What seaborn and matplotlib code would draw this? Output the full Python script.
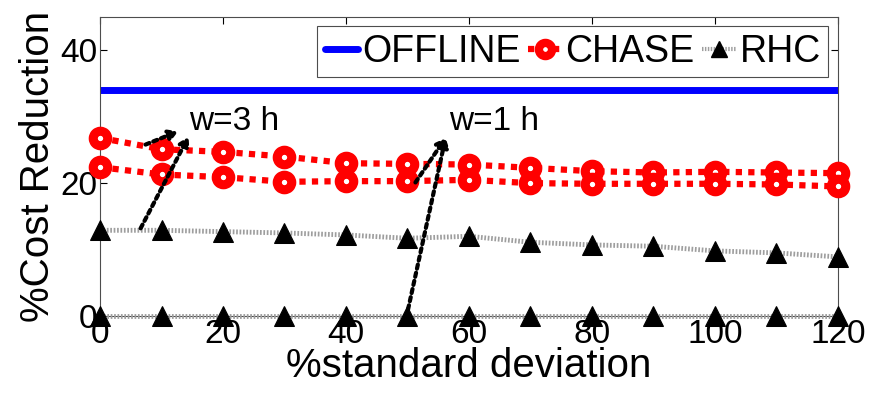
import numpy as np
import pandas as pd
import matplotlib
matplotlib.use("Agg")
import matplotlib.pyplot as plt
import seaborn as sns
from matplotlib.lines import Line2D


# ==== data ====
std_dev = [0, 10, 20, 30, 40, 50, 60, 70, 80, 90, 100, 110, 120]
offline = [34.0] * 13
chase_w3 = [26.8, 25.1, 24.7, 24.0, 23.0, 22.9, 22.8, 22.3, 21.8, 21.6, 21.7, 21.6, 21.5]
chase_w1 = [22.4, 21.3, 20.9, 20.2, 20.3, 20.3, 20.5, 20.0, 19.9, 19.9, 19.9, 19.8, 19.5]
rhc_w3 = [12.9, 12.9, 12.7, 12.5, 12.2, 11.7, 12.0, 11.1, 10.7, 10.5, 9.8, 9.5, 8.9]
rhc_w1 = [0.0] * 13

x_ticks = [0, 20, 40, 60, 80, 100, 120]
y_ticks = [0, 20, 40]

sns.set_style("ticks")
plt.rcParams["font.family"] = ["Liberation Sans", "DejaVu Sans"]
plt.rcParams["xtick.direction"] = "in"
plt.rcParams["ytick.direction"] = "in"
plt.rcParams["text.color"] = "black"
plt.rcParams["axes.labelcolor"] = "black"
plt.rcParams["xtick.color"] = "black"
plt.rcParams["ytick.color"] = "black"

fig, ax = plt.subplots(figsize=(8.7, 3.96), dpi=100)
fig.subplots_adjust(left=0.115, right=0.963, top=0.957, bottom=0.202)

# ==== lines ====
sns.lineplot(x=std_dev, y=offline, ax=ax, color="#0000ff", lw=5, zorder=2)

rhc_style = dict(color="0.62", lw=3.5, dashes=(0.35, 0.35), marker="^",
                 markersize=15, markerfacecolor="black", markeredgecolor="black",
                 zorder=3, clip_on=False)
sns.lineplot(x=std_dev, y=rhc_w3, ax=ax, **rhc_style)
sns.lineplot(x=std_dev, y=rhc_w1, ax=ax, **rhc_style)

chase_style = dict(color="#ff0000", lw=4.5, dashes=(1, 1), marker="o",
                   markersize=10.5, markerfacecolor="white", markeredgecolor="#ff0000",
                   markeredgewidth=6.5, zorder=4, clip_on=False)
sns.lineplot(x=std_dev, y=chase_w3, ax=ax, **chase_style)
sns.lineplot(x=std_dev, y=chase_w1, ax=ax, **chase_style)

# ==== annotations ====
arrow = dict(arrowstyle="-|>,head_length=0.5,head_width=0.3", linestyle=(0, (1, 1)),
             lw=3, color="black", shrinkA=0, shrinkB=0)
ax.annotate("", xy=(12.7, 27.8), xytext=(7.4, 25.8), arrowprops=arrow, zorder=5)
ax.annotate("", xy=(14.4, 27.0), xytext=(6.6, 13.2), arrowprops=arrow, zorder=5)
ax.annotate("", xy=(56.2, 26.8), xytext=(51.3, 20.1), arrowprops=arrow, zorder=5)
ax.annotate("", xy=(56.2, 26.8), xytext=(50.1, 1.0), arrowprops=arrow, zorder=5)
ax.text(14.5, 28.0, "w=3 h", fontsize=24, va="baseline", ha="left")
ax.text(56.7, 28.0, "w=1 h", fontsize=24, va="baseline", ha="left")

# ==== axes ====
ax.set_xlim(0, 120)
ax.set_ylim(0, 45)
ax.set_xticks(x_ticks)
ax.set_yticks(y_ticks)
ax.tick_params(labelsize=24, length=5, width=0.8, top=True, right=True, pad=2)
ax.set_xlabel("%standard deviation", fontsize=29, labelpad=-2)
ax.set_ylabel("%Cost Reduction", fontsize=29, labelpad=2)
for sp in ax.spines.values():
    sp.set_linewidth(0.8)
    sp.set_color("0.3")

handles = [
    Line2D([], [], color="#0000ff", lw=5),
    Line2D([], [], color="#ff0000", lw=4.5, ls=(0, (1, 1)), marker="o", markersize=9.5,
           markerfacecolor="white", markeredgecolor="#ff0000", markeredgewidth=6),
    Line2D([], [], color="0.62", lw=3, ls=(0, (0.35, 0.35)), marker="^", markersize=12,
           markerfacecolor="black", markeredgecolor="black"),
]
leg = ax.legend(handles, ["OFFLINE", "CHASE", "RHC"], loc="upper right", ncol=3,
                fontsize=27, handlelength=0.9, handletextpad=0.1, columnspacing=0.2,
                borderpad=0.2, borderaxespad=0.25, fancybox=False, framealpha=1)
leg.get_frame().set_edgecolor("0.3")
leg.get_frame().set_linewidth(0.8)

plt.savefig("out.png", dpi=100)
plt.close(fig)
